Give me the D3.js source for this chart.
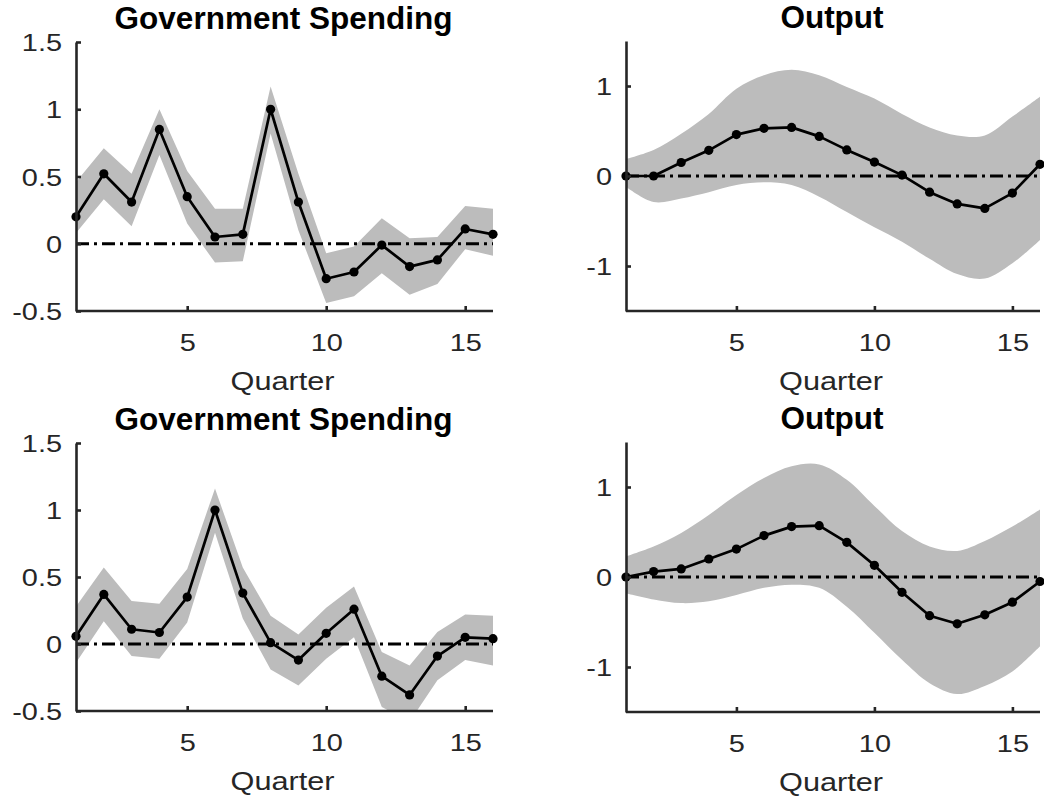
<!DOCTYPE html>
<html><head><meta charset="utf-8">
<script src="https://cdn.jsdelivr.net/npm/d3@7"></script>
<style>body{margin:0;background:#fff}svg{display:block}</style>
</head><body><svg id="c" width="1044" height="797"></svg>
<script>
// ---------- data ----------
const quarters = [1,2,3,4,5,6,7,8,9,10,11,12,13,14,15,16];
const xTickValues = [5,10,15];
const gsYTicks = [-0.5,0,0.5,1,1.5];
const outYTicks = [-1,0,1];
const titleGS = "Government Spending";
const titleOut = "Output";
const xLabel = "Quarter";

const gs1Mean  = [0.20,0.52,0.31,0.85,0.35,0.05,0.07,1.00,0.31,-0.26,-0.21,-0.01,-0.17,-0.12,0.11,0.07];
const gs1Upper = [0.46,0.71,0.52,1.00,0.54,0.26,0.26,1.17,0.52,-0.07,-0.02,0.19,0.04,0.05,0.28,0.26];
const gs1Lower = [0.08,0.33,0.13,0.66,0.15,-0.14,-0.13,0.82,0.10,-0.44,-0.39,-0.22,-0.38,-0.30,-0.04,-0.09];

const out1Mean  = [0.00,0.00,0.15,0.285,0.46,0.53,0.54,0.44,0.29,0.155,0.01,-0.18,-0.31,-0.36,-0.19,0.13];
const out1Upper = [0.19,0.29,0.47,0.69,0.97,1.12,1.18,1.12,0.99,0.86,0.69,0.54,0.45,0.45,0.66,0.88];
const out1Lower = [-0.12,-0.29,-0.25,-0.18,-0.10,-0.07,-0.10,-0.23,-0.40,-0.57,-0.73,-0.92,-1.09,-1.14,-0.97,-0.71];

const gs2Mean  = [0.057,0.37,0.11,0.086,0.35,1.00,0.38,0.01,-0.12,0.08,0.26,-0.24,-0.38,-0.09,0.05,0.04];
const gs2Upper = [0.28,0.57,0.32,0.30,0.56,1.16,0.57,0.21,0.07,0.27,0.43,-0.06,-0.16,0.09,0.22,0.21];
const gs2Lower = [-0.14,0.17,-0.09,-0.11,0.16,0.83,0.19,-0.19,-0.31,-0.11,0.05,-0.47,-0.58,-0.27,-0.12,-0.16];

const out2Mean  = [0.00,0.06,0.09,0.20,0.31,0.46,0.56,0.57,0.385,0.13,-0.17,-0.43,-0.52,-0.42,-0.28,-0.05];
const out2Upper = [0.23,0.34,0.49,0.69,0.91,1.10,1.23,1.25,1.08,0.79,0.51,0.34,0.29,0.40,0.56,0.75];
const out2Lower = [-0.18,-0.25,-0.29,-0.27,-0.20,-0.12,-0.085,-0.12,-0.33,-0.62,-0.92,-1.18,-1.30,-1.21,-1.05,-0.77];

// ---------- layout ----------
const svg = d3.select("#c");
const AX = "#262626";
const FONT = "Liberation Sans, Arial, sans-serif";
const panels = [
  {title:titleGS,  mean:gs1Mean,  hi:gs1Upper,  lo:gs1Lower,  dom:[-0.5,1.5], ticks:gsYTicks,  smooth:false, l:76,  r:493,  t:42,  b:311},
  {title:titleOut, mean:out1Mean, hi:out1Upper, lo:out1Lower, dom:[-1.5,1.5], ticks:outYTicks, smooth:true,  l:626, r:1040, t:41,  b:311},
  {title:titleGS,  mean:gs2Mean,  hi:gs2Upper,  lo:gs2Lower,  dom:[-0.5,1.5], ticks:gsYTicks,  smooth:false, l:76,  r:493,  t:443, b:711},
  {title:titleOut, mean:out2Mean, hi:out2Upper, lo:out2Lower, dom:[-1.5,1.5], ticks:outYTicks, smooth:true,  l:626, r:1040, t:442, b:712}
];
const sx = 1.18; // horizontal stretch of label glyphs

panels.forEach((p, i) => {
  const x = d3.scaleLinear().domain([1,16]).range([p.l, p.r]);
  const y = d3.scaleLinear().domain(p.dom).range([p.b, p.t]);
  const g = svg.append("g");
  const cid = "clip" + i;
  svg.append("clipPath").attr("id", cid).append("rect")
    .attr("x", p.l).attr("y", p.t).attr("width", p.r - p.l).attr("height", p.b - p.t);

  const rows = quarters.map((q, k) => ({q, m:p.mean[k], hi:p.hi[k], lo:p.lo[k]}));
  const area = d3.area().x(d => x(d.q)).y0(d => y(d.lo)).y1(d => y(d.hi))
    .curve(p.smooth ? d3.curveCatmullRom.alpha(0.5) : d3.curveLinear);
  g.append("path").datum(rows).attr("d", area).attr("fill", "#bcbcbc")
    .attr("clip-path", `url(#${cid})`);

  // zero line
  g.append("line").attr("x1", x(1)).attr("x2", x(16)).attr("y1", y(0)).attr("y2", y(0))
    .attr("stroke", "#000").attr("stroke-width", 2.8).attr("stroke-dasharray", "13,5,3,5");

  // mean line
  const line = d3.line().x(d => x(d.q)).y(d => y(d.m));
  g.append("path").datum(rows).attr("d", line).attr("fill", "none")
    .attr("stroke", "#000").attr("stroke-width", 2.7).attr("stroke-linejoin", "round");
  g.selectAll("circle.m").data(rows).join("circle").attr("class", "m")
    .attr("cx", d => x(d.q)).attr("cy", d => y(d.m)).attr("r", 4.6).attr("fill", "#000");

  // axes
  const xa = g.append("g").attr("transform", `translate(0,${p.b})`)
    .call(d3.axisBottom(x).tickValues(xTickValues).tickSizeInner(-5).tickSizeOuter(0).tickPadding(18).tickFormat(d => String(d)));
  const ya = g.append("g").attr("transform", `translate(${p.l},0)`)
    .call(d3.axisRight(y).tickValues(p.ticks).tickSizeInner(5).tickSizeOuter(0).tickFormat(d => String(d)));
  [xa, ya].forEach(a => {
    a.select(".domain").attr("stroke", AX).attr("stroke-width", 2.6);
    a.selectAll(".tick line").attr("stroke", AX).attr("stroke-width", 2.6);
    a.selectAll("text").attr("fill", AX).attr("font-family", FONT).attr("font-size", 24.5);
  });
  xa.selectAll("text").attr("y", null).attr("dy", null)
    .attr("transform", `translate(0,40) scale(${sx},1)`);
  ya.selectAll("text").attr("x", null).attr("dy", null).attr("text-anchor", "end")
    .attr("transform", `translate(-14,8.5) scale(${sx},1)`);
  xa.select(".domain").attr("d", `M${p.l},0H${p.r}`);

  // title
  svg.append("text").attr("x", (p.l + p.r) / 2 - 1).attr("y", p.t - 13)
    .attr("text-anchor", "middle").attr("font-family", FONT)
    .attr("font-weight", "bold").attr("font-size", 31.5).attr("fill", "#000").text(p.title);
  // x label
  svg.append("text").attr("text-anchor", "middle").attr("font-family", FONT)
    .attr("font-size", 26).attr("fill", AX)
    .attr("transform", `translate(${(p.l + p.r) / 2 - 2},${p.b + 79}) scale(${sx},1)`).text(xLabel);
});
</script></body></html>
